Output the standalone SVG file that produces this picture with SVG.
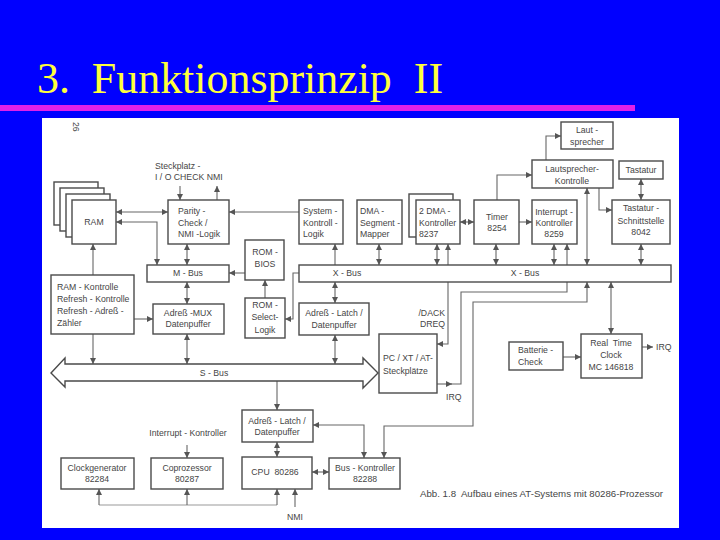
<svg xmlns="http://www.w3.org/2000/svg" width="720" height="540" viewBox="0 0 720 540">
<style>
.b{fill:#fff;stroke:#4a4a4a;stroke-width:1.4}
.t{font-family:"Liberation Sans",Arial,sans-serif;font-size:8.7px;fill:#454545}
.c{text-anchor:middle}
.r{text-anchor:end}
.l{fill:none;stroke:#666;stroke-width:1.1}
.e{marker-end:url(#a)}
.s{marker-start:url(#a)}
.f{stroke:#9a9a9a}
</style>
<defs>
<marker id="a" viewBox="0 0 10 10" refX="10" refY="5" markerWidth="6" markerHeight="6" markerUnits="userSpaceOnUse" orient="auto-start-reverse">
<path d="M0,0 L10,5 L0,10 z" fill="#555"/>
</marker>
</defs>
<rect x="0" y="0" width="720" height="540" fill="#0000ff"/>
<text x="37" y="93" xml:space="preserve" textLength="406" lengthAdjust="spacingAndGlyphs" style="font-family:'Liberation Serif','Times New Roman',serif;font-size:45px;fill:#ffff3c">3.  Funktionsprinzip  II</text>
<rect x="0" y="105" width="635" height="6" fill="#e020e8"/>
<rect x="42" y="118" width="637" height="410" fill="#fff"/>
<text class="t" transform="translate(73,122) rotate(90)">26</text>
<text class="t" x="155" y="169">Steckplatz -</text>
<text class="t" x="155" y="180">I / O  CHECK  NMI</text>

<g id="connectors">
<path class="l e s" d="M116,212 H168"/>
<path class="l e s" d="M157,265 V222 H116"/>
<path class="l e s" d="M187,244 V265"/>
<path class="l e" d="M180,186 V200"/>
<path class="l e" d="M217,200 V186"/>
<path class="l e" d="M299,212 H229"/>
<path class="l e" d="M93,275 V244"/>
<path class="l e" d="M245,273 H229"/>
<path class="l e" d="M265,298 V280"/>
<path class="l e" d="M299,273 H293 V319 H285"/>
<path class="l e s" d="M187,282 V304"/>
<path class="l e" d="M134,319 H153"/>
<path class="l e s" d="M187,334 V364"/>
<path class="l e" d="M93,334 V364"/>
<path class="l e" d="M335,265 V244"/>
<path class="l e s" d="M379,244 V265"/>
<path class="l e s" d="M437,244 V265"/>
<path class="l e" d="M448,265 V244"/>
<path class="l e" d="M448,282 V344 H437"/>
<path class="l e s" d="M460,222 H474"/>
<path class="l e" d="M519,222 H532"/>
<path class="l e" d="M497,200 V175 H532"/>
<path class="l e s" d="M496,244 V265"/>
<path class="l e s" d="M554,244 V265"/>
<path class="l e" d="M437,384 H452"/>
<path class="l" d="M451,384 H461 V292 H567 V282"/>
<path class="l e" d="M567,265 V244"/>
<path class="l e" d="M546,160 V136 H561"/>
<path class="l e s" d="M587,188 V265"/>
<path class="l e" d="M599,188 V210 H612"/>
<path class="l e s" d="M641,179 V200"/>
<path class="l e s" d="M641,244 V265"/>
<path class="l e s" d="M335,282 V303"/>
<path class="l e s" d="M335,335 V364"/>
<path class="l e s" d="M611,282 V334"/>
<path class="l e" d="M563,357 H581"/>
<path class="l e" d="M642,347 H653"/>
<path class="l e s" d="M384,458 V426 H473 V302 H587 V282"/>
<path class="l e" d="M277,381 V410"/>
<path class="l e s" d="M364,458 V425 H313"/>
<path class="l e s" d="M277,442 V457"/>
<path class="l e s" d="M312,472 H329"/>
<path class="l e" d="M187,445 V458"/>
<path class="l f" d="M99,505 H277"/>
<path class="l e" d="M99,505 V489"/>
<path class="l e" d="M187,505 V489"/>
<path class="l e" d="M277,505 V489"/>
<path class="l e" d="M295,507 V489"/>
</g>

<g id="ram">
<rect class="b" x="54" y="182" width="44" height="43"/>
<rect class="b" x="60" y="188" width="44" height="43"/>
<rect class="b" x="66" y="194" width="44" height="43"/>
<rect class="b" x="72" y="200" width="44" height="44"/>
<text class="t c" x="94" y="225">RAM</text>
</g>
<g id="parity">
<rect class="b" x="168" y="200" width="61" height="44"/>
<text class="t" x="178" y="214">Parity -</text>
<text class="t" x="178" y="226">Check /</text>
<text class="t" x="178" y="237">NMI -Logik</text>
</g>
<g id="system">
<rect class="b" x="299" y="200" width="44" height="44"/>
<text class="t" x="303" y="214">System -</text>
<text class="t" x="303" y="226">Kontroll -</text>
<text class="t" x="303" y="237">Logik</text>
</g>
<g id="mapper">
<rect class="b" x="357" y="200" width="45" height="44"/>
<text class="t" x="360" y="214">DMA -</text>
<text class="t" x="360" y="226">Segment -</text>
<text class="t" x="360" y="237">Mapper</text>
</g>
<g id="dma">
<rect class="b" x="409" y="194" width="44" height="43"/>
<rect class="b" x="416" y="200" width="44" height="44"/>
<text class="t" x="419" y="214">2 DMA -</text>
<text class="t" x="419" y="226">Kontroller</text>
<text class="t" x="419" y="237">8237</text>
</g>
<g id="timer">
<rect class="b" x="474" y="200" width="45" height="44"/>
<text class="t c" x="497" y="220">Timer</text>
<text class="t c" x="497" y="231">8254</text>
</g>
<g id="interrupt">
<rect class="b" x="532" y="200" width="45" height="44"/>
<text class="t c" x="554" y="215">Interrupt -</text>
<text class="t c" x="554" y="226">Kontroller</text>
<text class="t c" x="554" y="237">8259</text>
</g>
<g id="lautsprecher">
<rect class="b" x="561" y="122" width="52" height="27"/>
<text class="t c" x="587" y="133">Laut -</text>
<text class="t c" x="587" y="145">sprecher</text>
</g>
<g id="lk">
<rect class="b" x="532" y="160" width="81" height="28"/>
<text class="t c" x="572" y="172">Lautsprecher-</text>
<text class="t c" x="572" y="184">Kontrolle</text>
</g>
<g id="tastatur">
<rect class="b" x="619" y="161" width="44" height="18"/>
<text class="t c" x="641" y="173">Tastatur</text>
</g>
<g id="schnittstelle">
<rect class="b" x="612" y="200" width="58" height="44"/>
<text class="t c" x="641" y="211">Tastatur -</text>
<text class="t c" x="641" y="224">Schnittstelle</text>
<text class="t c" x="641" y="235">8042</text>
</g>
<g id="rombios">
<rect class="b" x="245" y="240" width="39" height="40"/>
<text class="t c" x="265" y="255">ROM -</text>
<text class="t c" x="265" y="267">BIOS</text>
</g>
<g id="mbus">
<rect class="b" x="147" y="265" width="82" height="17"/>
<text class="t c" x="188" y="276">M - Bus</text>
</g>
<g id="xbus">
<rect class="b" x="299" y="265" width="372" height="17"/>
<text class="t c" x="347" y="276">X - Bus</text>
<text class="t c" x="525" y="276">X - Bus</text>
</g>
<g id="ramk">
<rect class="b" x="51" y="275" width="83" height="59"/>
<text class="t" x="57" y="290">RAM - Kontrolle</text>
<text class="t" x="57" y="302">Refresh - Kontrolle</text>
<text class="t" x="57" y="314">Refresh - Adreß -</text>
<text class="t" x="57" y="326">Zähler</text>
</g>
<g id="mux">
<rect class="b" x="153" y="304" width="71" height="30"/>
<text class="t c" x="188" y="316">Adreß -MUX</text>
<text class="t c" x="188" y="327">Datenpuffer</text>
</g>
<g id="romselect">
<rect class="b" x="245" y="298" width="40" height="40"/>
<text class="t c" x="265" y="308">ROM -</text>
<text class="t c" x="265" y="320">Select-</text>
<text class="t c" x="265" y="333">Logik</text>
</g>
<g id="latch1">
<rect class="b" x="299" y="303" width="70" height="32"/>
<text class="t c" x="334" y="316">Adreß - Latch /</text>
<text class="t c" x="334" y="328">Datenpuffer</text>
</g>
<g id="dack">
<text class="t r" x="445" y="316">/DACK</text>
<text class="t r" x="445" y="327">DREQ</text>
</g>
<g id="slots">
<rect class="b" x="379" y="334" width="58" height="59"/>
<text class="t" x="383" y="361">PC / XT / AT-</text>
<text class="t" x="383" y="374">Steckplätze</text>
<text class="t" x="446" y="400">IRQ</text>
</g>
<g id="batterie">
<rect class="b" x="509" y="342" width="54" height="28"/>
<text class="t" x="518" y="353">Batterie -</text>
<text class="t" x="518" y="365">Check</text>
</g>
<g id="rtc">
<rect class="b" x="581" y="334" width="61" height="44"/>
<text class="t c" x="611" y="346" xml:space="preserve">Real  Time</text>
<text class="t c" x="611" y="358">Clock</text>
<text class="t c" x="611" y="370">MC 146818</text>
<text class="t" x="656" y="350">IRQ</text>
</g>
<g id="sbus">
<path class="b" d="M51,373 L65,358 L65,364 L363,364 L363,358 L378,373 L363,388 L363,381 L65,381 L65,387 Z"/>
<text class="t c" x="214" y="376">S - Bus</text>
</g>
<g id="latch2">
<rect class="b" x="242" y="410" width="71" height="32"/>
<text class="t c" x="277" y="424">Adreß - Latch /</text>
<text class="t c" x="277" y="435">Datenpuffer</text>
</g>
<g id="intlabel">
<text class="t c" x="188" y="436">Interrupt - Kontroller</text>
</g>
<g id="clock">
<rect class="b" x="61" y="458" width="73" height="31"/>
<text class="t c" x="97" y="471">Clockgenerator</text>
<text class="t c" x="97" y="482">82284</text>
</g>
<g id="copro">
<rect class="b" x="151" y="458" width="72" height="31"/>
<text class="t c" x="187" y="471">Coprozessor</text>
<text class="t c" x="187" y="482">80287</text>
</g>
<g id="cpu">
<rect class="b" x="242" y="457" width="70" height="32"/>
<text class="t c" x="275" y="475" xml:space="preserve">CPU  80286</text>
</g>
<g id="buskontroller">
<rect class="b" x="329" y="458" width="71" height="31"/>
<text class="t c" x="365" y="471">Bus - Kontroller</text>
<text class="t c" x="365" y="482">82288</text>
</g>
<g id="nmi">
<text class="t c" x="295" y="520">NMI</text>
</g>
<text class="t" x="420" y="497" xml:space="preserve" textLength="243" lengthAdjust="spacingAndGlyphs">Abb. 1.8  Aufbau eines AT-Systems mit 80286-Prozessor</text>
</svg>
